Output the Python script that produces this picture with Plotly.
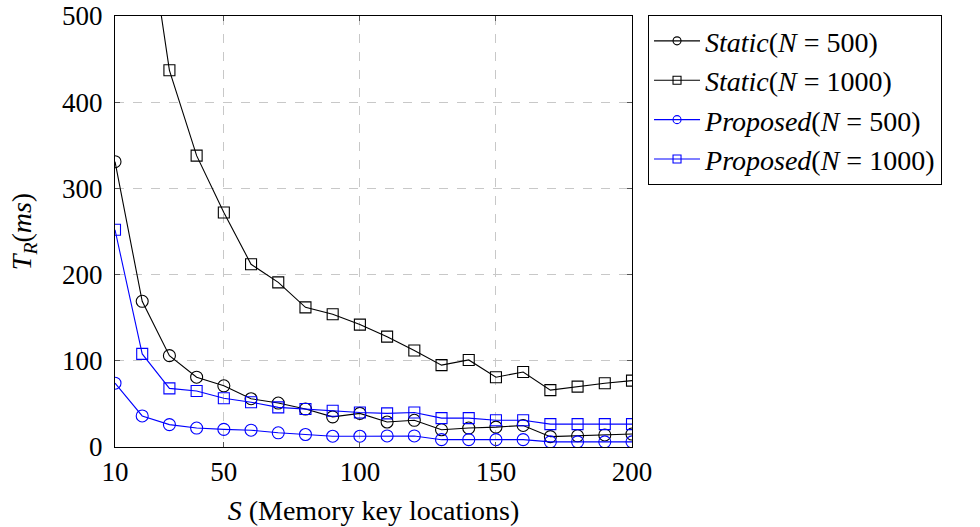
import plotly.graph_objects as go

S = [10, 20, 30, 40, 50, 60, 70, 80, 90, 100, 110, 120, 130, 140, 150, 160, 170, 180, 190, 200]
static_500 = [331, 169, 106, 81, 71, 56, 51, 44, 35, 39, 29, 31, 20, 22, 23, 25, 12, 13, 14, 15]
static_1000 = [1000, 650, 437, 338, 272, 212, 191, 162, 154, 142, 128, 112, 95, 101, 81, 87, 66, 70, 74, 77]
proposed_500 = [74, 36, 26, 22, 20.5, 19.5, 16.5, 14.5, 12.5, 12.5, 12.8, 12.8, 8.5, 8.5, 8.5, 8.5, 6, 6, 6, 6]
proposed_1000 = [252, 108, 68, 65, 56.5, 52, 46, 44, 42, 40, 39, 40, 33.5, 33.5, 31, 31, 26.5, 26.5, 26.5, 26.5]

x_ticks = [10, 50, 100, 150, 200]
y_ticks = [0, 100, 200, 300, 400, 500]

series_names = [
    "<i>Static</i>(<i>N</i> = 500)",
    "<i>Static</i>(<i>N</i> = 1000)",
    "<i>Proposed</i>(<i>N</i> = 500)",
    "<i>Proposed</i>(<i>N</i> = 1000)",
]
series_values = [static_500, static_1000, proposed_500, proposed_1000]
series_colors = ["black", "black", "blue", "blue"]
series_symbols = ["circle-open", "square-open", "circle-open", "square-open"]

FONT = "Liberation Serif"

fig = go.Figure()
for name, ys, col, sym in zip(series_names, series_values, series_colors, series_symbols):
    msize = 12 if sym.startswith("circle") else 11
    fig.add_trace(go.Scatter(
        x=S, y=ys, name=name, mode="lines+markers", showlegend=False,
        line=dict(color=col, width=1.1),
        marker=dict(symbol=sym, size=msize, color=col, line=dict(width=1.1, color=col)),
    ))
# legend entries (smaller markers, as in the reference legend)
for name, col, sym in zip(series_names, series_colors, series_symbols):
    fig.add_trace(go.Scatter(
        x=[None], y=[None], name=name, mode="lines+markers", showlegend=True,
        line=dict(color=col, width=1.1),
        marker=dict(symbol=sym, size=8, color=col, line=dict(width=1.1, color=col)),
    ))

axis_common = dict(
    showline=True, linecolor="black", linewidth=1.2, mirror="ticks",
    ticks="inside", ticklen=5, tickcolor="#555",
    showgrid=True, gridcolor="#c8c8c8", griddash="dash", gridwidth=1,
    zeroline=False, ticklabeloverflow="allow",
    tickfont=dict(family=FONT, size=27, color="black"),
)

fig.update_xaxes(range=[10, 200], tickvals=x_ticks, ticktext=[str(v) for v in x_ticks],
                 title=dict(text="<i>S</i> (Memory key locations)", font=dict(family=FONT, size=28, color="black"), standoff=14),
                 **axis_common)
fig.update_yaxes(range=[0, 500], tickvals=y_ticks, ticktext=[str(v) for v in y_ticks],
                 ticklabelstandoff=6,
                 title=dict(text="<i>T</i><sub><i>R</i></sub>(<i>ms</i>)", font=dict(family=FONT, size=28, color="black"), standoff=22),
                 **axis_common)

fig.update_layout(
    width=980, height=527,
    margin=dict(l=115, r=348, t=16, b=80, autoexpand=False),
    plot_bgcolor="white", paper_bgcolor="white",
    font=dict(family=FONT, size=27, color="black"),
    legend=dict(
        x=1.031, y=1.002, xanchor="left", yanchor="top",
        bordercolor="black", borderwidth=1,
        font=dict(family=FONT, size=28, color="black"),
        itemwidth=46, tracegroupgap=0,
    ),
    showlegend=True,
)

fig.write_html("out.html", config={"displayModeBar": False},
               post_script="document.body.style.margin='0';")
